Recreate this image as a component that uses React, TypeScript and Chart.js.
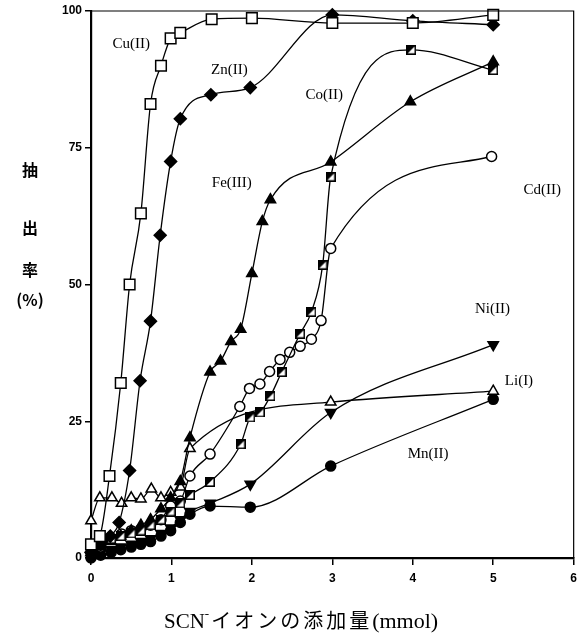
import React, { useEffect, useRef } from "react";
import { Chart, registerables } from "chart.js";
Chart.register(...registerables);

// ---- data (x = SCN- added, mmol ; y = extraction %) ----
const cuX = [0, 0.11, 0.23, 0.37, 0.48, 0.62, 0.74, 0.87, 0.99, 1.11, 1.5, 2, 3, 4, 5];
const cuY = [2.5, 4, 15, 32, 50, 63, 83, 90, 95, 96, 98.5, 98.7, 97.8, 97.8, 99.3];

const znX = [0, 0.12, 0.24, 0.35, 0.48, 0.61, 0.74, 0.86, 0.99, 1.11, 1.49, 1.98, 3, 4, 5];
const znY = [1, 2.5, 4, 6.5, 16, 32.4, 43.3, 59, 72.5, 80.3, 84.7, 86, 99.3, 98.2, 97.5];

const coX = [0, 0.12, 0.25, 0.37, 0.5, 0.62, 0.74, 0.87, 0.99, 1.11, 1.23, 1.48, 1.86, 1.98, 2.1, 2.23, 2.37, 2.6, 2.74, 2.88, 2.98, 3.98, 5];
const coY = [2, 3, 3.5, 4, 4.5, 5, 6, 7, 8.5, 10, 11.5, 13.9, 20.8, 25.7, 26.6, 29.6, 34, 41, 45, 53.6, 69.7, 92.9, 89.2];

const feX = [0, 0.12, 0.25, 0.37, 0.5, 0.62, 0.74, 0.87, 0.99, 1.11, 1.23, 1.48, 1.61, 1.74, 1.86, 2.0, 2.13, 2.23, 2.98, 3.97, 5];
const feY = [1, 2, 3, 4, 5, 6, 7, 9, 11, 14, 22, 34, 36, 39.6, 41.8, 52, 61.5, 65.5, 72.4, 83.4, 90.7];

const cdX = [0, 0.12, 0.25, 0.38, 0.5, 0.62, 0.74, 0.87, 0.99, 1.11, 1.23, 1.48, 1.85, 1.97, 2.1, 2.22, 2.35, 2.47, 2.6, 2.74, 2.86, 2.98, 4.98];
const cdY = [1, 2, 3.5, 4.4, 5, 5.3, 6, 7, 9.5, 10.4, 15, 19, 27.7, 31, 31.8, 34.1, 36.3, 37.6, 38.7, 40, 43.4, 56.6, 73.4];

const niX = [0, 0.12, 0.25, 0.37, 0.5, 0.62, 0.74, 0.87, 0.99, 1.11, 1.23, 1.48, 1.98, 2.98, 5];
const niY = [0.5, 1, 1.5, 2, 2.5, 3, 3.5, 4.5, 5.5, 7, 8.5, 10, 13.5, 26.6, 39];

const liX = [0, 0.11, 0.26, 0.38, 0.5, 0.62, 0.75, 0.87, 0.99, 1.11, 1.23, 2.98, 5];
const liY = [6.8, 11, 11, 10, 11, 10.8, 12.6, 11, 12, 13, 20, 28.5, 30.5];

const mnX = [0, 0.12, 0.25, 0.37, 0.5, 0.62, 0.74, 0.87, 0.99, 1.11, 1.23, 1.48, 1.98, 2.98, 5];
const mnY = [0, 0.5, 1, 1.5, 2, 2.5, 3, 4, 5, 6.5, 8, 9.5, 9.3, 16.8, 29];

const xTickValues = [0, 1, 2, 3, 4, 5, 6];
const yTickValues = [0, 25, 50, 75, 100];

const seriesNames = ["Cu(II)", "Zn(II)", "Co(II)", "Fe(III)", "Cd(II)", "Ni(II)", "Li(I)", "Mn(II)"];
const labelX = [0.5, 1.72, 2.9, 1.75, 5.61, 4.99, 5.32, 4.19];
const labelY = [94, 89.2, 84.7, 68.6, 67.3, 45.6, 32.3, 19];

const xTitleMain = "SCN";
const xTitleSup = "-";
const xTitleJa = "イオンの添加量";
const xTitleUnit = "(mmol)";
const yTitleParts = ["抽", "出", "率", "(%)"];

function pts(xs: number[], ys: number[]) {
  return xs.map((x, i) => ({ x, y: ys[i] }));
}

function halfSquare(size: number) {
  const c = document.createElement("canvas");
  c.width = size;
  c.height = size;
  const ctx = c.getContext("2d")!;
  ctx.fillStyle = "#fff";
  ctx.fillRect(0, 0, size, size);
  ctx.fillStyle = "#000";
  ctx.beginPath();
  ctx.moveTo(0, 0);
  ctx.lineTo(size, 0);
  ctx.lineTo(0, size);
  ctx.closePath();
  ctx.fill();
  ctx.strokeStyle = "#000";
  ctx.lineWidth = 1.6;
  ctx.strokeRect(0.8, 0.8, size - 1.6, size - 1.6);
  return c;
}

export default function App() {
  const ref = useRef<HTMLCanvasElement>(null);
  useEffect(() => {
    const canvas = ref.current!;
    const coMarker = halfSquare(10);
    const base = {
      showLine: true,
      clip: false,
      borderColor: "#000",
      borderWidth: 1.3,
      pointBorderColor: "#000",
      pointBorderWidth: 1.5,
      cubicInterpolationMode: "monotone" as const,
      fill: false,
    };
    const framePlugin = {
      id: "frameAndText",
      afterDraw(chart: any) {
        const { ctx, chartArea: a, scales } = chart;
        ctx.save();
        ctx.strokeStyle = "#000";
        ctx.lineWidth = 1.2;
        ctx.beginPath();
        ctx.moveTo(a.left, a.top);
        ctx.lineTo(a.right, a.top);
        ctx.lineTo(a.right, a.bottom);
        ctx.stroke();
        // series labels
        ctx.fillStyle = "#000";
        ctx.font = "15px 'Liberation Serif', 'DejaVu Serif', serif";
        ctx.textAlign = "center";
        ctx.textBaseline = "middle";
        seriesNames.forEach((n, i) => {
          ctx.fillText(n, scales.x.getPixelForValue(labelX[i]), scales.y.getPixelForValue(labelY[i]));
        });
        // y title
        ctx.font = "bold 16px 'Noto Sans CJK JP', sans-serif";
        const ys = [170, 228, 270, 300];
        yTitleParts.forEach((t, i) => {
          ctx.fillText(t, 30, ys[i]);
        });
        // x title
        ctx.textAlign = "left";
        ctx.textBaseline = "alphabetic";
        ctx.font = "21px 'Liberation Serif', serif";
        let x = 164;
        const yb = 628;
        ctx.fillText(xTitleMain, x, yb);
        x += ctx.measureText(xTitleMain).width;
        ctx.font = "13px 'Liberation Serif', serif";
        ctx.fillText(xTitleSup, x, yb - 10);
        x += ctx.measureText(xTitleSup).width + 2;
        ctx.font = "20px 'Noto Sans CJK JP', serif";
        for (const ch of xTitleJa) {
          ctx.fillText(ch, x, yb);
          x += ctx.measureText(ch).width + 3;
        }
        ctx.font = "22px 'Liberation Serif', serif";
        ctx.fillText(xTitleUnit, x, yb);
        ctx.restore();
      },
    };
    const chart = new Chart(canvas, {
      type: "scatter",
      data: {
        datasets: [
          { ...base, label: "Cu(II)", data: pts(cuX, cuY), pointStyle: "rect", pointRadius: 7.5, pointBackgroundColor: "#fff" },
          { ...base, label: "Zn(II)", data: pts(znX, znY), pointStyle: "rectRot", pointRadius: 6, pointBackgroundColor: "#000" },
          { ...base, label: "Co(II)", data: pts(coX, coY), pointStyle: coMarker as any, pointRadius: 5, pointBackgroundColor: "#000" },
          { ...base, label: "Fe(III)", data: pts(feX, feY), pointStyle: "triangle", pointRadius: 6, pointBackgroundColor: "#000" },
          { ...base, label: "Cd(II)", data: pts(cdX, cdY), pointStyle: "circle", pointRadius: 5, pointBackgroundColor: "#fff" },
          { ...base, label: "Ni(II)", data: pts(niX, niY), pointStyle: "triangle", pointRotation: 180, pointRadius: 6, pointBackgroundColor: "#000" },
          { ...base, label: "Li(I)", data: pts(liX, liY), pointStyle: "triangle", pointRadius: 6, pointBackgroundColor: "#fff" },
          { ...base, label: "Mn(II)", data: pts(mnX, mnY), pointStyle: "circle", pointRadius: 5, pointBackgroundColor: "#000" },
        ],
      },
      options: {
        animation: false,
        responsive: false,
        devicePixelRatio: 1,
        layout: { padding: { top: 11, right: 1, left: 0, bottom: 0 } },
        plugins: { legend: { display: false }, tooltip: { enabled: false } },
        scales: {
          x: {
            type: "linear",
            min: 0,
            max: 6,
            afterFit: (s: any) => { s.height = 79; },
            afterBuildTicks: (s: any) => { s.ticks = xTickValues.map((v) => ({ value: v })); },
            ticks: { color: "#000", padding: 6, maxRotation: 0, font: { family: "'Liberation Sans', Arial, sans-serif", size: 12, weight: "bold" } },
            grid: { drawOnChartArea: false, drawTicks: true, tickLength: 7, color: "#000", lineWidth: 1.5 },
            border: { display: true, color: "#000", width: 2.2 },
          },
          y: {
            type: "linear",
            min: 0,
            max: 100,
            afterFit: (s: any) => { s.width = 91; },
            afterBuildTicks: (s: any) => { s.ticks = yTickValues.map((v) => ({ value: v })); },
            ticks: { color: "#000", padding: 3, font: { family: "'Liberation Sans', Arial, sans-serif", size: 12, weight: "bold" } },
            grid: { drawOnChartArea: false, drawTicks: true, tickLength: 6, color: "#000", lineWidth: 1.5 },
            border: { display: true, color: "#000", width: 2.2 },
          },
        },
      } as any,
      plugins: [framePlugin],
    });
    return () => chart.destroy();
  }, []);
  return (
    <div style={{ position: "fixed", left: 0, top: 0, width: 583, height: 637, background: "#fff" }}>
      <canvas ref={ref} width={583} height={637} style={{ display: "block", width: 583, height: 637 }} />
    </div>
  );
}
